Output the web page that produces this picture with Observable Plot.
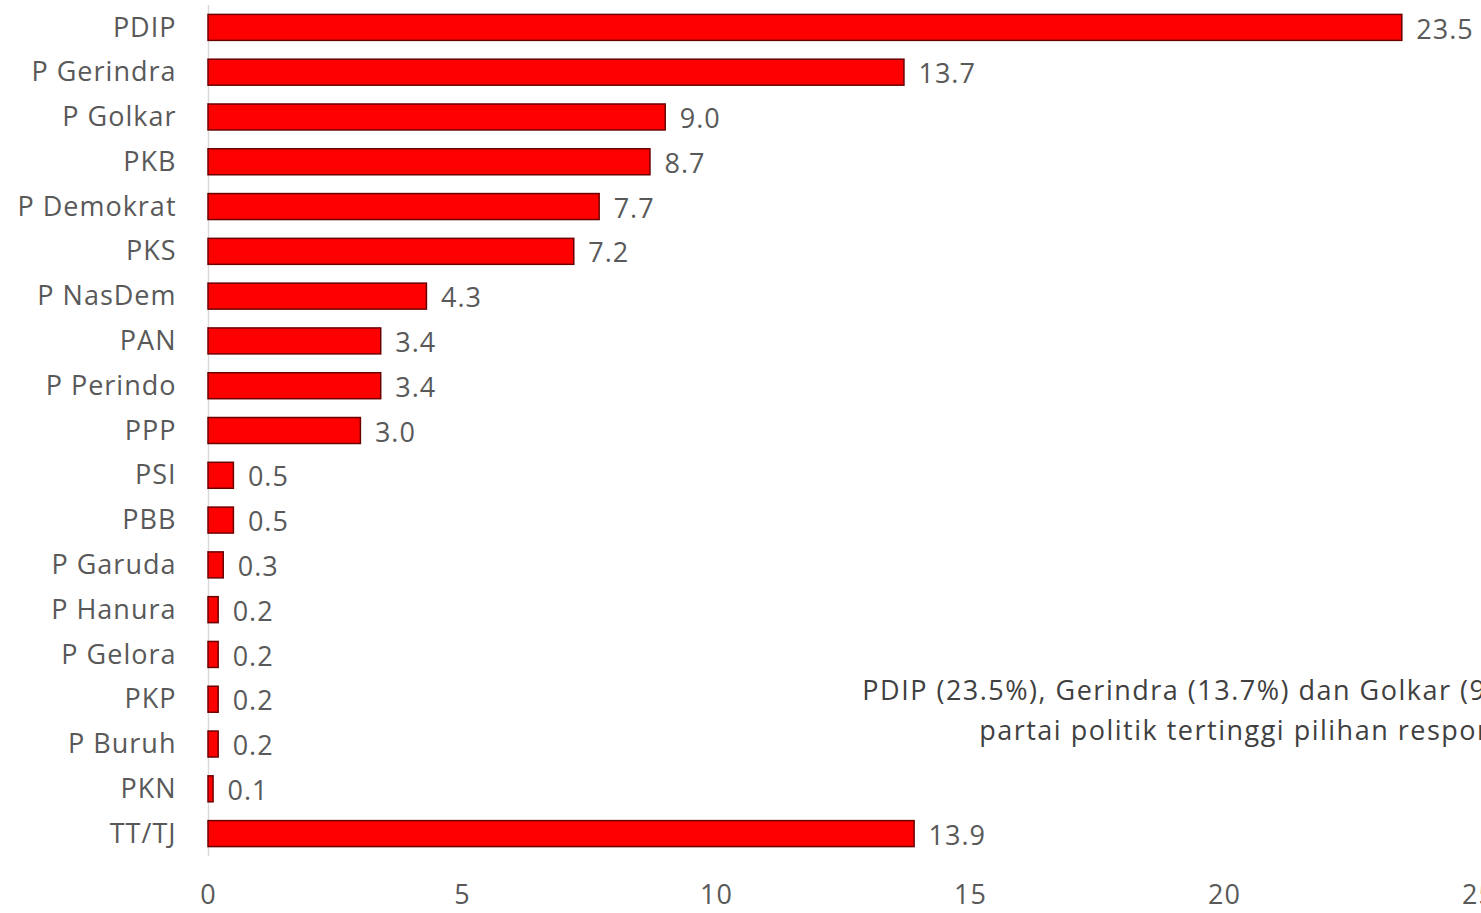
<!DOCTYPE html>
<html>
<head>
<meta charset="utf-8">
<script src="https://cdn.jsdelivr.net/npm/d3@7"></script>
<script src="https://cdn.jsdelivr.net/npm/@observablehq/plot@0.6"></script>
<style>
  html, body { margin: 0; padding: 0; background: #fff; overflow: hidden; }
  #chart { width: 1481px; height: 913px; overflow: hidden; }
  #chart svg text { letter-spacing: 1px; }
  #chart svg g.note text { letter-spacing: 1.5px; }
</style>
</head>
<body>
<div id="chart"></div>
<script>
const parties = ["PDIP","P Gerindra","P Golkar","PKB","P Demokrat","PKS","P NasDem","PAN","P Perindo","PPP","PSI","PBB","P Garuda","P Hanura","P Gelora","PKP","P Buruh","PKN","TT/TJ"];
const values = [23.5,13.7,9.0,8.7,7.7,7.2,4.3,3.4,3.4,3.0,0.5,0.5,0.3,0.2,0.2,0.2,0.2,0.1,13.9];
const xTicks = [0,5,10,15,20,25];
const noteLines = ["PDIP (23.5%), Gerindra (13.7%) dan Golkar (9.0%) merupakan", "partai politik tertinggi pilihan responden"];
const noteX = [12.87, 15.17];
const noteRow = ["PKP", "P Buruh"];

const data = parties.map((p, i) => ({party: p, value: values[i]}));
const notes = noteLines.map((t, i) => ({text: t, x: noteX[i], party: noteRow[i]}));

const chart = Plot.plot({
  width: 1481,
  height: 913,
  marginLeft: 208,
  marginRight: 3,
  marginTop: 5,
  marginBottom: 57,
  style: {fontFamily: "'Open Sans', sans-serif", fontSize: "27px", color: "#595959", background: "#fff", overflow: "hidden"},
  x: {domain: [0, 25], ticks: xTicks, tickSize: 0, tickPadding: 28, label: null, tickFormat: d => String(d)},
  y: {domain: parties, paddingInner: 0.42, paddingOuter: 0.21, round: false, tickSize: 0, tickPadding: 32, label: null},
  marks: [
    Plot.ruleX([0], {stroke: "#d9d9d9", strokeWidth: 1.5}),
    Plot.barX(data, {x: "value", y: "party", fill: "#ff0000", stroke: "#6b0000", strokeWidth: 1.5}),
    Plot.text(data, {x: "value", y: "party", text: d => d.value.toFixed(1), textAnchor: "start", dx: 14, dy: 2, fill: "#595959", fontSize: 27}),
    Plot.text(notes.slice(0, 1), {x: "x", y: "party", text: "text", textAnchor: "start", dy: -8, fill: "#404040", fontSize: 27, className: "note"}),
    Plot.text(notes.slice(1), {x: "x", y: "party", text: "text", textAnchor: "start", dy: -13, fill: "#404040", fontSize: 27, className: "note"})
  ]
});
document.getElementById("chart").appendChild(chart);
</script>
</body>
</html>
